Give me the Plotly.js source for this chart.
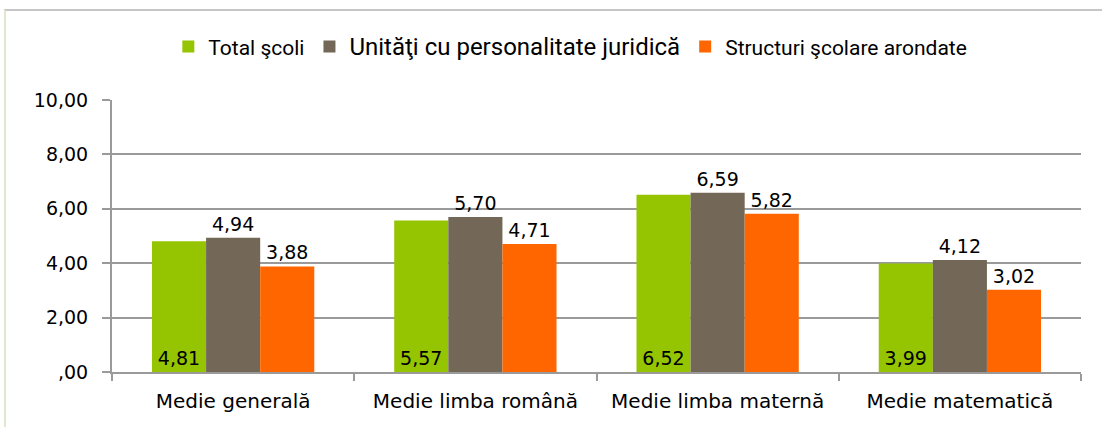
<!DOCTYPE html>
<html>
<head>
<meta charset="utf-8">
<script src="https://cdn.plot.ly/plotly-3.0.1.min.js"></script>
<style>
  html, body { margin: 0; padding: 0; background: #fff; }
  #frame { position: absolute; left: 4px; top: 9px; width: 1100px; height: 420px;
           border-top: 2px solid #c6c6c6; border-left: 2px solid #dde8cc; box-sizing: border-box; }
  #chart { position: absolute; left: 0; top: 0; width: 1102px; height: 427px; }
</style>
</head>
<body>
<div id="frame"></div>
<div id="chart"></div>
<script>
const categories = ["Medie generală", "Medie limba română", "Medie limba maternă", "Medie matematică"];
const seriesNames = ["Total şcoli", "Unităţi cu personalitate juridică", "Structuri şcolare arondate"];
const totalScoli = [4.81, 5.57, 6.52, 3.99];
const unitatiPJ = [4.94, 5.70, 6.59, 4.12];
const structuri = [3.88, 4.71, 5.82, 3.02];
const tickVals = [0, 2, 4, 6, 8, 10];
const tickText = [",00", "2,00", "4,00", "6,00", "8,00", "10,00"];

const colors = ["#95c400", "#736857", "#ff6600"];
const labelFont = { family: "DejaVu Sans, Verdana, sans-serif", size: 19, color: "#000" };

const traces = [
  {
    type: "bar", name: seriesNames[0], x: categories, y: totalScoli,
    marker: { color: colors[0] },
    texttemplate: "%{y:.2f}", textposition: "inside", insidetextanchor: "start",
    textangle: 0, insidetextfont: labelFont, hoverinfo: "none"
  },
  {
    type: "bar", name: '<span style="font-size:24px">' + seriesNames[1] + '</span>', x: categories, y: unitatiPJ,
    marker: { color: colors[1] },
    texttemplate: "%{y:.2f}", textposition: "outside", textangle: 0,
    outsidetextfont: labelFont, cliponaxis: false, hoverinfo: "none"
  },
  {
    type: "bar", name: seriesNames[2], x: categories, y: structuri,
    marker: { color: colors[2] },
    texttemplate: "%{y:.2f}", textposition: "outside", textangle: 0,
    outsidetextfont: labelFont, cliponaxis: false, hoverinfo: "none"
  }
];

const layout = {
  width: 1102, height: 427,
  margin: { l: 112, r: 21, t: 100, b: 55 },
  paper_bgcolor: "rgba(0,0,0,0)",
  plot_bgcolor: "rgba(0,0,0,0)",
  separators: ", ",
  barmode: "group",
  bargap: 0.33,
  bargroupgap: 0,
  font: { family: "DejaVu Sans, Verdana, sans-serif", size: 19, color: "#000" },
  showlegend: true,
  legend: {
    orientation: "h", x: 0.473, xanchor: "center", y: 1.195, yanchor: "middle",
    font: { family: "Roboto, sans-serif", size: 21, color: "#000" },
    itemwidth: 30, traceorder: "normal"
  },
  xaxis: {
    type: "category",
    showline: true, linecolor: "#9a9a9a", linewidth: 2,
    ticks: "outside", tickson: "boundaries", ticklen: 7, tickwidth: 2, tickcolor: "#9a9a9a",
    showgrid: false, zeroline: false,
    ticklabelstandoff: 10,
    tickfont: { family: "DejaVu Sans, Verdana, sans-serif", size: 20, color: "#000" }
  },
  yaxis: {
    range: [0, 10],
    tickvals: tickVals, ticktext: tickText,
    showline: true, linecolor: "#9a9a9a", linewidth: 2,
    ticks: "outside", ticklen: 8, tickwidth: 2, tickcolor: "#9a9a9a",
    showgrid: true, gridcolor: "#9a9a9a", gridwidth: 2,
    zeroline: false,
    ticklabelstandoff: 10,
    tickfont: { family: "DejaVu Sans, Verdana, sans-serif", size: 19, color: "#000" }
  }
};

Plotly.newPlot("chart", traces, layout, { staticPlot: true, displayModeBar: false });
</script>
</body>
</html>
